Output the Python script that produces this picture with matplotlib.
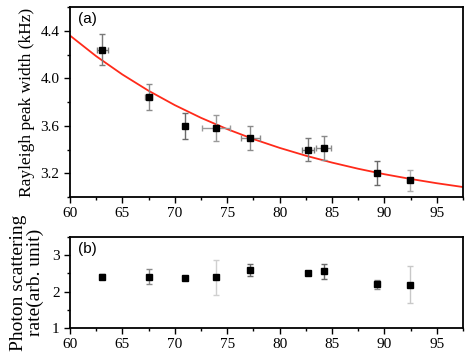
import matplotlib
matplotlib.use("Agg")
import matplotlib.pyplot as plt
from matplotlib.ticker import MultipleLocator

# Panel (a): Rayleigh peak width
x_a = [63.1, 67.5, 71.0, 73.9, 77.2, 82.7, 84.2, 89.3, 92.4]
y_a = [4.24, 3.84, 3.60, 3.58, 3.495, 3.40, 3.41, 3.20, 3.14]
yerr_a = [0.13, 0.11, 0.11, 0.11, 0.10, 0.10, 0.10, 0.10, 0.09]
xerr_a = [0.5, 0.3, 0.2, 1.35, 0.9, 0.6, 0.75, 0.2, 0.2]

# Fitted curve
fit_x = [60, 62.5, 65, 67.5, 70, 72.5, 75, 77.5, 80, 82.5, 85, 87.5, 90, 92.5, 95, 97.5]
fit_y = [4.360, 4.186, 4.032, 3.895, 3.774, 3.667, 3.572, 3.488, 3.414, 3.348,
         3.290, 3.238, 3.192, 3.152, 3.116, 3.084]

# Panel (b): photon scattering rate
x_b = [63.1, 67.5, 71.0, 73.9, 77.2, 82.7, 84.2, 89.3, 92.4]
y_b = [2.41, 2.41, 2.38, 2.40, 2.60, 2.51, 2.56, 2.20, 2.19]
yerr_b = [0.07, 0.20, 0.03, 0.48, 0.17, 0.03, 0.20, 0.13, 0.50]

ecol_a = ['#7a7a7a', '#8a8a8a', '#6a6a6a', '#9a9a9a', '#8a8a8a', '#7a7a7a', '#8a8a8a', '#6a6a6a', '#b0b0b0']
ecol_b = ['#7a7a7a', '#8a8a8a', '#7a7a7a', '#d0d0d0', '#6a6a6a', '#7a7a7a', '#6a6a6a', '#8a8a8a', '#c8c8c8']

plt.rcParams['font.family'] = ['Liberation Serif', 'DejaVu Serif']
fig = plt.figure(figsize=(4.71, 3.54), dpi=100)
ax1 = fig.add_axes([0.1486, 0.4435, 0.8344, 0.5365])
ax2 = fig.add_axes([0.1486, 0.0734, 0.8344, 0.2571])

ax1.plot(fit_x, fit_y, color='#ff2a1a', lw=1.3, zorder=2)
for i in range(len(x_a)):
    ax1.errorbar(x_a[i], y_a[i], yerr=yerr_a[i], xerr=xerr_a[i], fmt='s', color='black',
                 ms=5, ecolor=ecol_a[i], elinewidth=1.0, capsize=2.5, capthick=1.0, zorder=3)

for i in range(len(x_b)):
    ax2.errorbar(x_b[i], y_b[i], yerr=yerr_b[i], fmt='s', color='black',
                 ms=5, ecolor=ecol_b[i], elinewidth=1.0, capsize=2.5, capthick=1.0, zorder=3)

ax1.set_xlim(60, 97.5)
ax1.set_ylim(3.0, 4.6)
ax1.xaxis.set_major_locator(MultipleLocator(5))
ax1.xaxis.set_minor_locator(MultipleLocator(2.5))
ax1.yaxis.set_minor_locator(MultipleLocator(0.2))
ax1.set_yticks([3.2, 3.6, 4.0, 4.4])
ax1.set_ylabel('Rayleigh peak width (kHz)', fontsize=12.5, labelpad=4)

ax2.set_xlim(60, 97.5)
ax2.set_ylim(1, 3.5)
ax2.xaxis.set_major_locator(MultipleLocator(5))
ax2.xaxis.set_minor_locator(MultipleLocator(2.5))
ax2.yaxis.set_major_locator(MultipleLocator(1))
ax2.yaxis.set_minor_locator(MultipleLocator(0.5))
ax2.set_ylabel('Photon scattering\nrate(arb. unit)', fontsize=14, labelpad=6, linespacing=0.95)

for ax in (ax1, ax2):
    for s in ax.spines.values():
        s.set_linewidth(1.3)
    ax.tick_params(which='major', direction='out', length=4, width=1.0, labelsize=11)
    ax.tick_params(which='minor', direction='out', length=2.5, width=1.0)

ax1.text(0.02, 0.975, '(a)', transform=ax1.transAxes, ha='left', va='top',
         fontsize=11, family=['Liberation Sans', 'DejaVu Sans'])
ax2.text(0.02, 0.95, '(b)', transform=ax2.transAxes, ha='left', va='top',
         fontsize=11, family=['Liberation Sans', 'DejaVu Sans'])

fig.savefig('out.png', dpi=100)
